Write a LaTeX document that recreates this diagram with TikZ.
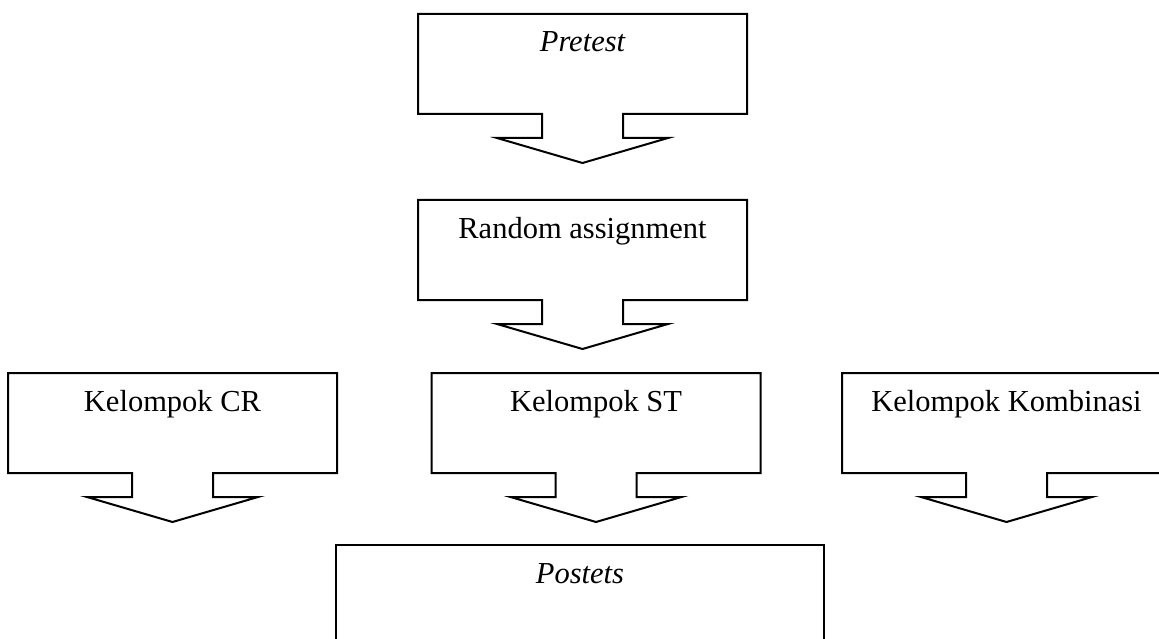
\documentclass[tikz,border=0pt]{standalone}
\usepackage{fontspec}
\setmainfont{Liberation Serif}
\tikzset{
  callout line/.style={line width=2pt, line join=miter},
  label text/.style={font=\fontsize{30.5}{36}\selectfont, anchor=base, inner sep=0pt}
}
% name, centre x, top y, text
\newcommand\downcallout[4]{%
  \draw[callout line] (#2-164.5,#3) -- (#2+164.5,#3) -- (#2+164.5,#3+100)
    -- (#2+40.5,#3+100) -- (#2+40.5,#3+124) -- (#2+85.5,#3+124)
    -- (#2,#3+149) -- (#2-85.5,#3+124) -- (#2-40.5,#3+124)
    -- (#2-40.5,#3+100) -- (#2-164.5,#3+100) -- cycle;
  \node[label text] (#1) at (#2,#3+38) {#4};
}
\begin{document}
\begin{tikzpicture}[x=1pt,y=-1pt]
  \useasboundingbox (0,0) rectangle (1159,639);
  \clip (0,0) rectangle (1159,639);
  \downcallout{pre}{582.5}{14}{\itshape Pretest}
  \downcallout{rand}{582.5}{200}{Random assignment}
  \downcallout{cr}{172.5}{373}{Kelompok CR}
  \downcallout{st}{596}{373}{Kelompok ST}
  \downcallout{komb}{1006.5}{373}{Kelompok Kombinasi}
  \draw[callout line] (336,670) -- (336,545) -- (824,545) -- (824,670);
  \node[label text] (post) at (580,583) {\itshape Postets};
\end{tikzpicture}
\end{document}
